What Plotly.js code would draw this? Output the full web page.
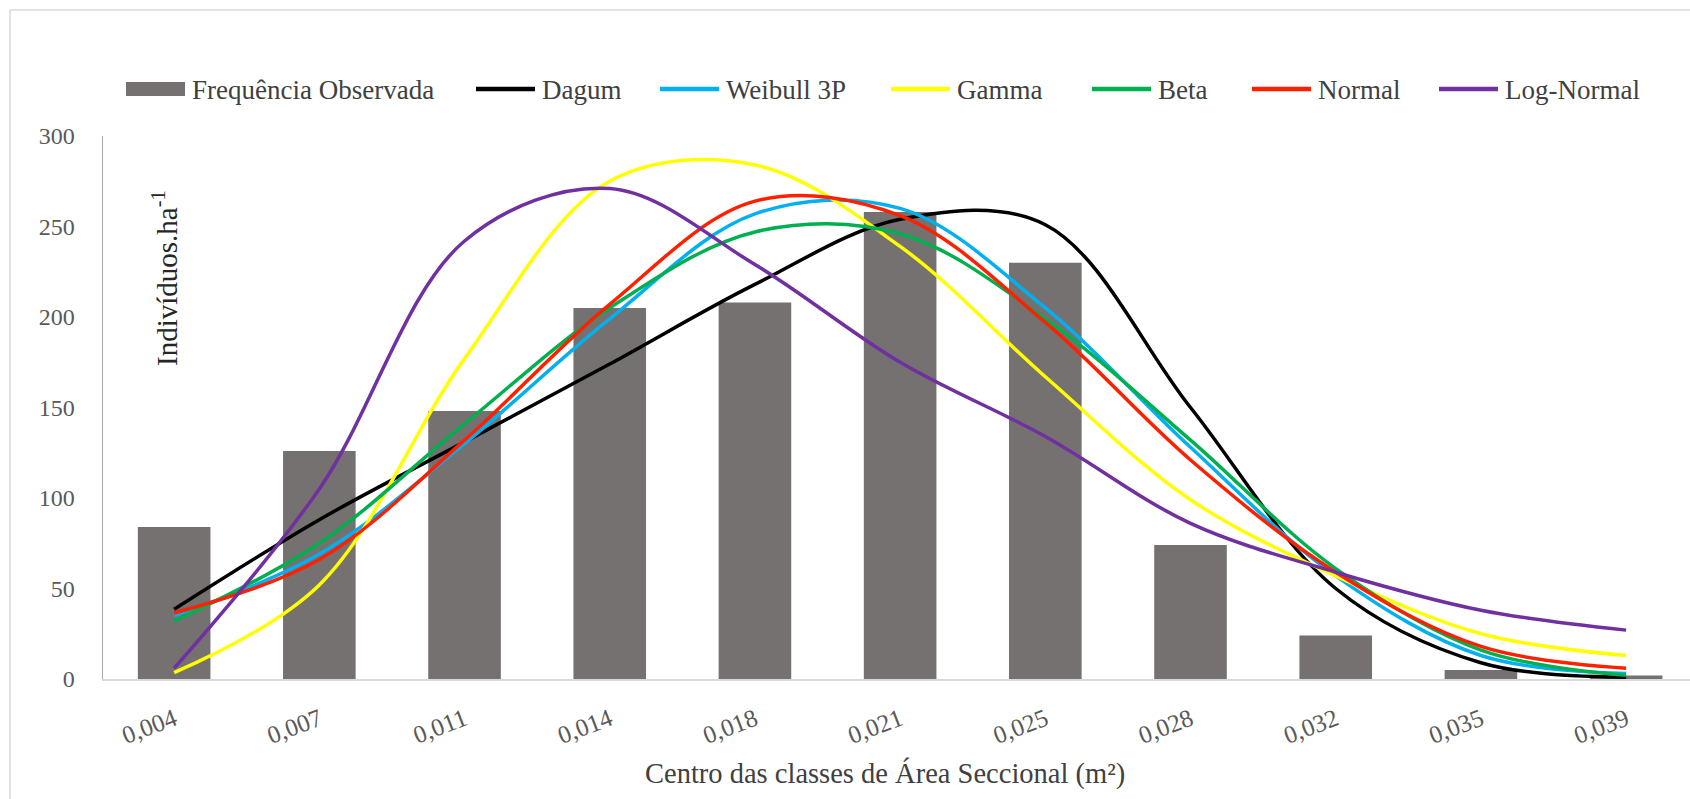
<!DOCTYPE html>
<html>
<head>
<meta charset="utf-8">
<script src="https://cdn.plot.ly/plotly-3.0.1.min.js"></script>
<style>
html,body{margin:0;padding:0;background:#fff;}
#chart{width:1690px;height:799px;}
</style>
</head>
<body>
<div id="chart"></div>
<script>
// Class centres (m²) and observed frequencies (indivíduos/ha)
const classes = ['0,004','0,007','0,011','0,014','0,018','0,021','0,025','0,028','0,032','0,035','0,039'];
const observed = [84, 126, 148, 205, 208, 258, 230, 74, 24, 5, 2];
// Fitted distributions
const dagum     = [38.5, 88, 131, 174, 218, 254, 251, 150, 50, 9, 1];
const weibull3p = [35, 69, 130, 199, 257, 260, 205, 128, 57, 13, 3];
const gamma     = [3.5, 52, 177, 275, 284, 239, 167, 99, 57, 25, 13];
const beta      = [32, 75, 141, 205, 247, 246, 199, 132, 61, 16, 2];
const normal    = [36.5, 66, 132, 207, 264, 256, 197, 121, 59, 18, 6];
const lognormal = [6, 105, 242, 271, 229, 175, 134, 86, 59, 38, 27];

const seriesNames = ['Frequência Observada', 'Dagum', 'Weibull 3P', 'Gamma', 'Beta', 'Normal', 'Log-Normal'];
const seriesColors = ['#767171', '#000000', '#00B0F0', '#FFFF00', '#00B050', '#FF2000', '#7030A0'];

const serif = 'Liberation Serif';

// figure geometry (px) -> paper coordinates
const L = 103, T = 136, B = 679, W = 1690 - L;
const px = x => (x - L) / W;
const py = y => (B - y) / (B - T);

function curve(i, y) {
  return {
    type: 'scatter', mode: 'lines', name: seriesNames[i],
    x: classes, y: y,
    line: {color: seriesColors[i], width: 3.5, shape: 'spline', smoothing: 1},
    showlegend: false
  };
}

const data = [
  {type: 'bar', name: seriesNames[0], x: classes, y: observed,
   marker: {color: seriesColors[0]}, width: 0.5, showlegend: false},
  curve(1, dagum),
  curve(2, weibull3p),
  curve(3, gamma),
  curve(4, beta),
  curve(5, normal),
  curve(6, lognormal)
];

// legend drawn as shapes + text, laid out like the original
const legendSymbolX = [126, 476, 660, 891, 1092, 1252, 1439];
const legendY = 89;
const shapes = [{
  type: 'rect', xref: 'paper', yref: 'paper',
  x0: px(10), x1: 1.05, y0: -0.5, y1: py(10),
  line: {color: '#d9d9d9', width: 1.5}, fillcolor: 'rgba(0,0,0,0)', layer: 'below'
}];
const annotations = [];
seriesNames.forEach((name, i) => {
  const x0 = legendSymbolX[i], x1 = x0 + 59;
  if (i === 0) {
    shapes.push({type: 'rect', xref: 'paper', yref: 'paper',
      x0: px(x0), x1: px(x1), y0: py(legendY + 7), y1: py(legendY - 7),
      line: {width: 0}, fillcolor: seriesColors[i]});
  } else {
    shapes.push({type: 'line', xref: 'paper', yref: 'paper',
      x0: px(x0), x1: px(x1), y0: py(legendY), y1: py(legendY),
      line: {color: seriesColors[i], width: 4.5}});
  }
  annotations.push({text: name, xref: 'paper', yref: 'paper',
    x: px(x1 + 5), y: py(legendY + 1), xanchor: 'left', yanchor: 'middle',
    showarrow: false, font: {family: serif, size: 27, color: '#404040'}});
});

annotations.push({
  text: 'Indivíduos.ha<sup>-1</sup>', textangle: -90,
  xref: 'paper', yref: 'paper', x: px(165), y: py(278),
  xanchor: 'center', yanchor: 'middle', showarrow: false,
  font: {family: serif, size: 29, color: '#262626'}
});
annotations.push({
  text: 'Centro das classes de Área Seccional (m²)',
  xref: 'paper', yref: 'paper', x: px(885), y: py(773),
  xanchor: 'center', yanchor: 'middle', showarrow: false,
  font: {family: serif, size: 28.5, color: '#404040'}
});

const layout = {
  width: 1690, height: 799,
  margin: {l: L, r: 0, t: T, b: 799 - B},
  paper_bgcolor: '#ffffff', plot_bgcolor: '#ffffff',
  font: {family: serif, color: '#404040'},
  showlegend: false,
  xaxis: {
    type: 'category', range: [-0.49, 10.44],
    showgrid: false, zeroline: false,
    showline: true, linecolor: '#d9d9d9', linewidth: 2,
    ticks: 'outside', ticklen: 14, tickcolor: 'rgba(0,0,0,0)',
    tickangle: -21,
    tickfont: {family: serif, size: 25, color: '#595959'}
  },
  yaxis: {
    range: [0, 300], dtick: 50, tick0: 0,
    showgrid: false, zeroline: false,
    showline: true, linecolor: '#a6a6a6', linewidth: 1.5,
    ticks: 'outside', ticklen: 22, tickcolor: 'rgba(0,0,0,0)',
    tickfont: {family: serif, size: 24, color: '#595959'}
  },
  annotations: annotations,
  shapes: shapes
};

Plotly.newPlot('chart', data, layout, {displayModeBar: false, staticPlot: true});
</script>
</body>
</html>
